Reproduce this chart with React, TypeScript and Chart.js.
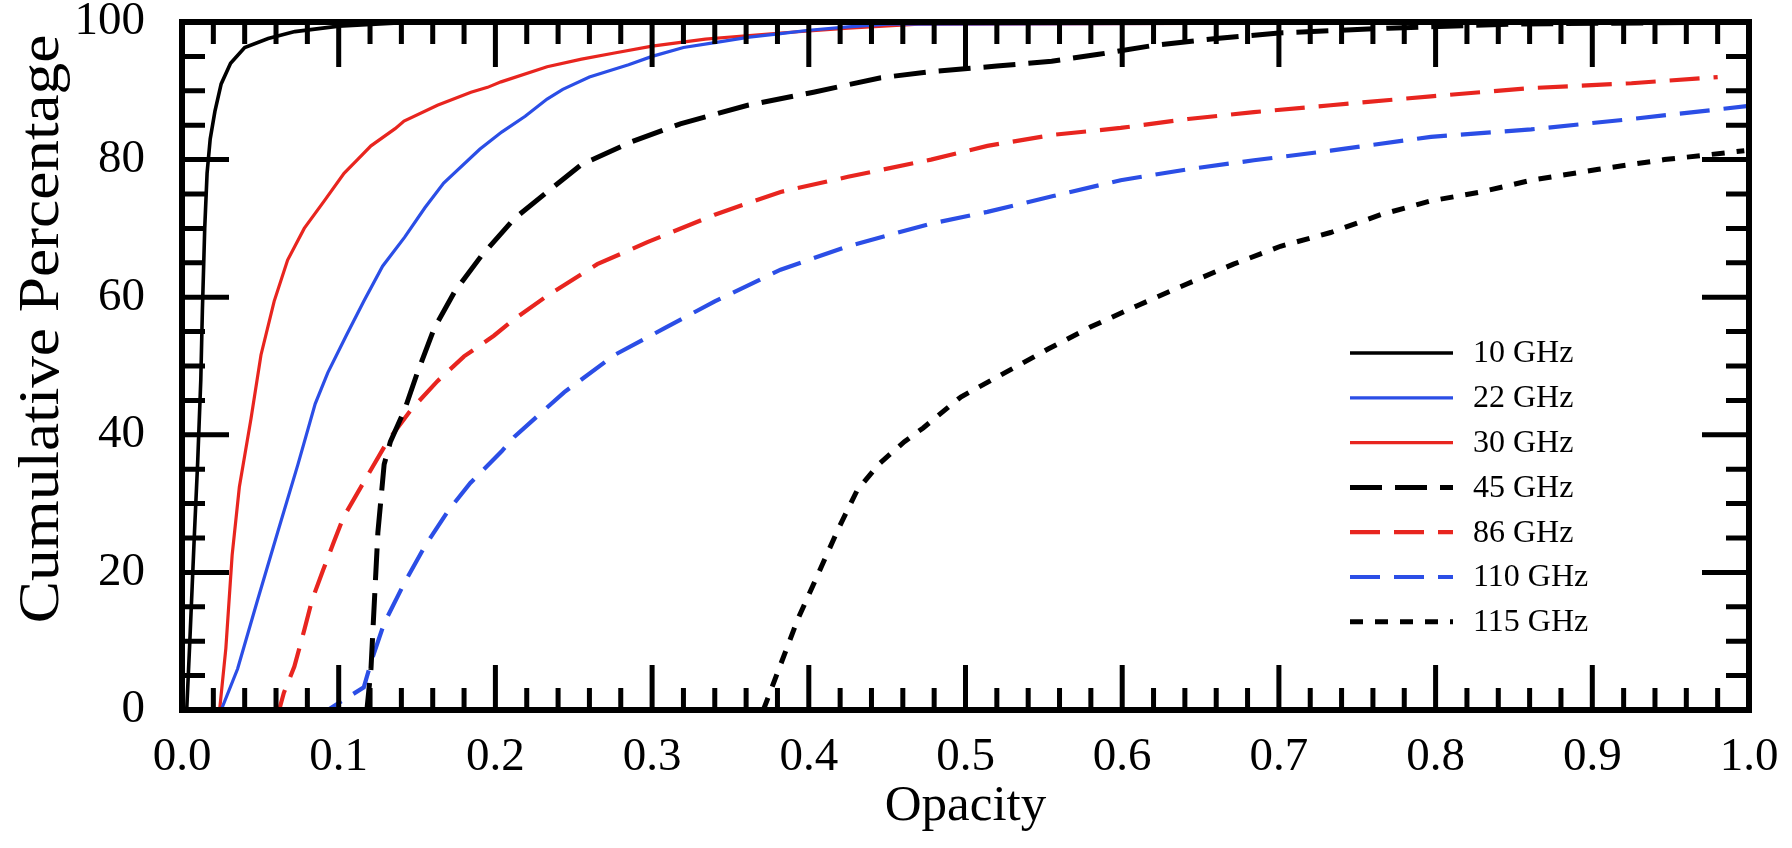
import React, { useEffect, useRef } from "react";
import { Chart, registerables } from "chart.js";

Chart.register(...registerables);

// ---- data (opacity, cumulative %) ----
const seriesLabels = ["10 GHz", "22 GHz", "30 GHz", "45 GHz", "86 GHz", "110 GHz", "115 GHz"];

const opacity10 = [0, 0.003, 0.005, 0.0065, 0.008, 0.010, 0.012, 0.013, 0.0145, 0.016, 0.018, 0.021, 0.025, 0.031, 0.040, 0.055, 0.072, 0.10, 0.15, 1.0];
const pct10 = [0, 0, 10, 18, 26, 36, 48, 58, 70, 78, 83, 87, 91, 94, 96.3, 97.6, 98.6, 99.4, 100, 100];

const opacity22 = [0, 0.025, 0.0355, 0.048, 0.061, 0.074, 0.085, 0.093, 0.105, 0.116, 0.128, 0.142, 0.155, 0.167, 0.19, 0.204, 0.219, 0.233, 0.243, 0.26, 0.285, 0.30, 0.32, 0.34, 0.362, 0.382, 0.40, 0.425, 0.45, 1.0];
const pct22 = [0, 0, 6, 15.8, 25.8, 35.7, 44.5, 49, 54.5, 59.4, 64.5, 68.7, 73, 76.6, 81.5, 84, 86.3, 88.8, 90.2, 92, 93.8, 95, 96.3, 97, 97.8, 98.3, 98.8, 99.3, 99.7, 100];

const opacity30 = [0, 0.024, 0.028, 0.032, 0.0366, 0.044, 0.0504, 0.0588, 0.0674, 0.078, 0.0908, 0.1034, 0.112, 0.1206, 0.136, 0.1417, 0.163, 0.1844, 0.195, 0.2036, 0.233, 0.255, 0.276, 0.30, 0.334, 0.36, 0.382, 0.425, 0.47, 1.0];
const pct30 = [0, 0, 9, 22.5, 32.4, 42.3, 51.6, 59.4, 65.4, 70, 74, 78, 80, 82, 84.5, 85.6, 87.9, 89.8, 90.5, 91.3, 93.5, 94.6, 95.5, 96.5, 97.5, 98, 98.4, 99.1, 99.7, 100];

const opacity45 = [0, 0.118, 0.1206, 0.125, 0.129, 0.133, 0.142, 0.150, 0.161, 0.174, 0.191, 0.212, 0.233, 0.255, 0.287, 0.318, 0.361, 0.403, 0.446, 0.478, 0.52, 0.555, 0.585, 0.62, 0.66, 0.70, 0.77, 0.85, 1.0];
const pct45 = [0, 0, 6, 25.8, 35.7, 39, 43.6, 48.9, 55.5, 60.8, 66, 71.4, 75.3, 79.3, 82.6, 85.2, 87.9, 89.8, 91.9, 92.8, 93.6, 94.3, 95.3, 96.6, 97.6, 98.4, 99.1, 99.7, 100];

const opacity86 = [0, 0.062, 0.065, 0.0717, 0.078, 0.083, 0.090, 0.097, 0.103, 0.119, 0.131, 0.146, 0.163, 0.18, 0.199, 0.212, 0.233, 0.265, 0.297, 0.34, 0.382, 0.425, 0.478, 0.514, 0.556, 0.599, 0.642, 0.684, 0.733, 0.797, 0.861, 0.925, 0.98];
const pct86 = [0, 0, 2.5, 6.3, 11.6, 16, 20.3, 24.5, 28, 34.3, 39, 43.6, 47.8, 51.4, 54.4, 56.8, 60.2, 64.8, 68, 72, 75.3, 77.5, 80, 82, 83.6, 84.6, 85.9, 86.9, 87.9, 89.2, 90.4, 91.1, 92];

const opacity110 = [0, 0.093, 0.116, 0.121, 0.129, 0.142, 0.155, 0.17, 0.184, 0.204, 0.212, 0.244, 0.276, 0.308, 0.34, 0.382, 0.425, 0.478, 0.514, 0.556, 0.599, 0.642, 0.684, 0.733, 0.797, 0.861, 0.925, 1.0];
const pct110 = [0, 0, 3.3, 7.2, 12.6, 18.5, 23.8, 29, 33, 37.6, 39.7, 46.2, 51.6, 55.5, 59.4, 64, 67.4, 70.7, 72.4, 74.7, 77, 78.6, 79.9, 81.3, 83.3, 84.4, 85.9, 87.8];

const opacity115 = [0.371, 0.382, 0.393, 0.406, 0.419, 0.431, 0.445, 0.461, 0.473, 0.497, 0.525, 0.553, 0.58, 0.61, 0.642, 0.671, 0.701, 0.733, 0.765, 0.797, 0.829, 0.861, 0.904, 0.946, 0.974, 0.997];
const pct115 = [0, 6.6, 13.2, 19.8, 26.4, 32, 35.8, 39, 41, 45.5, 49, 52.5, 55.7, 58.8, 62, 64.8, 67.4, 69.4, 72, 74, 75.3, 77, 78.6, 80, 80.7, 81.3];

const xTitle = "Opacity";
const yTitle = "Cumulative Percentage";

const RED = "#e8251f";
const BLUE = "#2b4ee6";
const BLACK = "#000000";
const SERIF = "'Liberation Serif', 'Times New Roman', serif";

const toPoints = (xs: number[], ys: number[]) => xs.map((x, i) => ({ x, y: ys[i] }));

const framePlugin = {
  id: "framePlugin",
  afterDatasetsDraw(chart: any) {
    const { ctx, chartArea, scales } = chart;
    const { left, right, top, bottom } = chartArea;
    const x = scales.x;
    const y = scales.y;
    ctx.save();
    ctx.strokeStyle = "#000";
    ctx.lineCap = "butt";
    ctx.lineWidth = 5;
    ctx.setLineDash([]);
    ctx.beginPath();
    for (let i = 1; i < 50; i++) {
      const px = x.getPixelForValue(i * 0.02);
      const len = i % 5 === 0 ? 45 : 22;
      ctx.moveTo(px, bottom);
      ctx.lineTo(px, bottom - len);
      ctx.moveTo(px, top);
      ctx.lineTo(px, top + len);
    }
    for (let i = 1; i < 20; i++) {
      const py = y.getPixelForValue(i * 5);
      const len = i % 4 === 0 ? 47 : 23;
      ctx.moveTo(left, py);
      ctx.lineTo(left + len, py);
      ctx.moveTo(right, py);
      ctx.lineTo(right - len, py);
    }
    ctx.stroke();
    ctx.lineWidth = 6;
    ctx.strokeRect(left, top, right - left, bottom - top);
    ctx.restore();
  },
  afterDraw(chart: any) {
    const { ctx } = chart;
    ctx.save();
    // legend
    const datasets = chart.data.datasets;
    datasets.forEach((ds: any, i: number) => {
      const yy = 353 + i * 44.8;
      ctx.beginPath();
      ctx.strokeStyle = ds.borderColor;
      ctx.lineWidth = ds.borderWidth;
      ctx.setLineDash(ds.borderDash || []);
      ctx.moveTo(1350, yy);
      ctx.lineTo(1453, yy);
      ctx.stroke();
      ctx.setLineDash([]);
      ctx.fillStyle = "#000";
      ctx.font = `32px ${SERIF}`;
      ctx.textAlign = "left";
      ctx.textBaseline = "middle";
      ctx.fillText(ds.label, 1473, yy + 1);
    });
    // y axis title (slightly stretched along the reading direction)
    ctx.translate(58, 329);
    ctx.rotate(-Math.PI / 2);
    ctx.scale(1.13, 1);
    ctx.fillStyle = "#000";
    ctx.font = `56px ${SERIF}`;
    ctx.textAlign = "center";
    ctx.textBaseline = "alphabetic";
    ctx.fillText(yTitle, 0, 0);
    ctx.restore();
  },
};

export default function App() {
  const canvasRef = useRef<HTMLCanvasElement | null>(null);

  useEffect(() => {
    if (!canvasRef.current) return;
    const datasets = [
      { label: seriesLabels[0], data: toPoints(opacity10, pct10), borderColor: BLACK, borderWidth: 3.6, borderDash: [] as number[] },
      { label: seriesLabels[1], data: toPoints(opacity22, pct22), borderColor: BLUE, borderWidth: 3.2, borderDash: [] as number[] },
      { label: seriesLabels[2], data: toPoints(opacity30, pct30), borderColor: RED, borderWidth: 3.2, borderDash: [] as number[] },
      { label: seriesLabels[3], data: toPoints(opacity45, pct45), borderColor: BLACK, borderWidth: 5, borderDash: [32, 13] },
      { label: seriesLabels[4], data: toPoints(opacity86, pct86), borderColor: RED, borderWidth: 4.2, borderDash: [30, 14] },
      { label: seriesLabels[5], data: toPoints(opacity110, pct110), borderColor: BLUE, borderWidth: 4.2, borderDash: [30, 14] },
      { label: seriesLabels[6], data: toPoints(opacity115, pct115), borderColor: BLACK, borderWidth: 5, borderDash: [13, 12] },
    ].map((d) => ({ ...d, showLine: true, pointRadius: 0, pointHoverRadius: 0, fill: false, tension: 0, backgroundColor: d.borderColor }));

    const chart = new Chart(canvasRef.current, {
      type: "scatter",
      data: { datasets },
      options: {
        animation: false,
        responsive: true,
        maintainAspectRatio: false,
        layout: { padding: { left: 0, right: 43, top: 22, bottom: 0 } },
        plugins: { legend: { display: false }, tooltip: { enabled: false } },
        scales: {
          x: {
            type: "linear",
            min: 0,
            max: 1,
            afterFit: (s: any) => {
              s.height = 138;
              s.paddingLeft = 0;
              s.paddingRight = 0;
            },
            grid: { display: false, drawTicks: false },
            border: { display: false },
            ticks: {
              stepSize: 0.1,
              autoSkip: false,
              maxRotation: 0,
              padding: 24,
              color: "#000",
              font: { family: SERIF, size: 47, lineHeight: 1 },
              callback: (v: any) => Number(v).toFixed(1),
            },
            title: {
              display: true,
              text: xTitle,
              color: "#000",
              font: { family: SERIF, size: 51, lineHeight: 1 },
              padding: { top: 0, bottom: 16 },
            },
          },
          y: {
            type: "linear",
            min: 0,
            max: 100,
            afterFit: (s: any) => {
              s.width = 182;
              s.paddingTop = 0;
              s.paddingBottom = 0;
            },
            grid: { display: false, drawTicks: false },
            border: { display: false },
            ticks: {
              stepSize: 20,
              padding: 37,
              color: "#000",
              font: { family: SERIF, size: 47, lineHeight: 1 },
            },
          },
        },
      },
      plugins: [framePlugin],
    });
    return () => chart.destroy();
  }, []);

  return (
    <div style={{ position: "absolute", left: 0, top: 0, width: 1792, height: 848, background: "#fff" }}>
      <canvas ref={canvasRef} />
    </div>
  );
}
